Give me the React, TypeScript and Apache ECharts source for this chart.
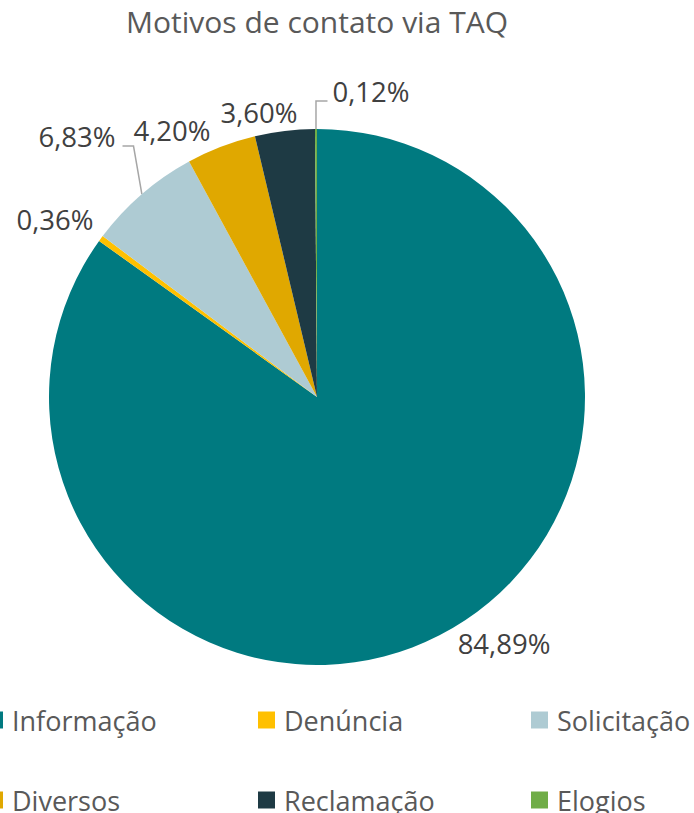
import React, { useEffect, useRef } from "react";
import * as echarts from "echarts";

// ---- data ----
const titleText = "Motivos de contato via TAQ";
const categories = ["Informação", "Denúncia", "Solicitação", "Diversos", "Reclamação", "Elogios"];
const percents = [84.89, 0.36, 6.83, 4.2, 3.6, 0.12];
const legendColumns = [
  ["Informação", "Diversos"],
  ["Denúncia", "Reclamação"],
  ["Solicitação", "Elogios"],
];

// ---- styles / layout ----
const colors = ["#007A80", "#FFC000", "#AECBD3", "#E0A800", "#1E3A44", "#70AD47"];
const CX = 317;
const CY = 397;
const R = 268;
const legendLefts = [-14, 258, 531];
const labelSpots: number[][] = [
  [504, 643],
  [55, 219],
  [77, 136],
  [172, 130],
  [259, 112],
  [371, 91],
];
const withLeader = [false, false, true, false, false, true];

export default function App() {
  const ref = useRef<HTMLDivElement>(null);

  useEffect(() => {
    document.body.style.margin = "0";
    if (!ref.current) return;
    const chart = echarts.init(ref.current, undefined, { renderer: "svg" });

    const total = percents.reduce((a, b) => a + b, 0);
    const midFrac: number[] = [];
    let acc = 0;
    percents.forEach((v) => {
      midFrac.push((acc + v / 2) / total);
      acc += v;
    });

    const fmt = (v: number) => v.toFixed(2).replace(".", ",") + "%";

    chart.setOption({
      animation: false,
      backgroundColor: "#FFFFFF",
      title: {
        text: titleText,
        left: CX,
        top: 6,
        padding: 0,
        textAlign: "center",
        textStyle: {
          fontFamily: "Open Sans",
          fontSize: 30,
          fontWeight: "normal",
          color: "#595959",
        },
      },
      legend: legendColumns.map((col, i) => ({
        data: col,
        orient: "vertical",
        left: legendLefts[i],
        top: 705,
        width: 300,
        height: 300,
        padding: 0,
        itemWidth: 17,
        itemHeight: 17,
        itemGap: 50,
        icon: "rect",
        selectedMode: false,
        textStyle: {
          fontFamily: "Open Sans",
          fontSize: 27,
          color: "#595959",
          lineHeight: 30,
          padding: [0, 0, 0, 4],
        },
      })),
      series: [
        {
          type: "pie",
          center: [CX, CY],
          radius: R,
          startAngle: 90,
          clockwise: true,
          avoidLabelOverlap: false,
          emphasis: { disabled: true },
          itemStyle: { borderWidth: 0 },
          label: {
            show: true,
            position: "outside",
            formatter: (p: any) => fmt(p.value),
            fontFamily: "Open Sans",
            fontSize: 27.5,
            color: "#404040",
          },
          labelLine: { show: false },
          labelLayout: (params: any) => {
            const i = params.dataIndex;
            const [x, y] = labelSpots[i];
            const res: any = { x, y, align: "center", verticalAlign: "middle" };
            if (withLeader[i]) {
              const w = params.labelRect.width;
              const ang = midFrac[i] * Math.PI * 2;
              const p0 = [CX + R * Math.sin(ang), CY - R * Math.cos(ang)];
              const lineY = y + 10;
              if (i === 2) {
                const right = x + w / 2;
                res.labelLinePoints = [p0, [right + 18, lineY], [right + 7, lineY]];
              } else {
                const left = x - w / 2;
                res.labelLinePoints = [p0, [p0[0], lineY], [left - 5, lineY]];
              }
            }
            return res;
          },
          data: categories.map((name, i) => ({
            name,
            value: percents[i],
            itemStyle: { color: colors[i] },
            labelLine: withLeader[i]
              ? { show: true, length: 10, length2: 10, lineStyle: { color: "#A6A6A6", width: 1.5 } }
              : { show: false },
          })),
        },
      ],
    });

    return () => chart.dispose();
  }, []);

  return (
    <div
      ref={ref}
      style={{ position: "absolute", left: 0, top: 0, width: 694, height: 813 }}
    />
  );
}
